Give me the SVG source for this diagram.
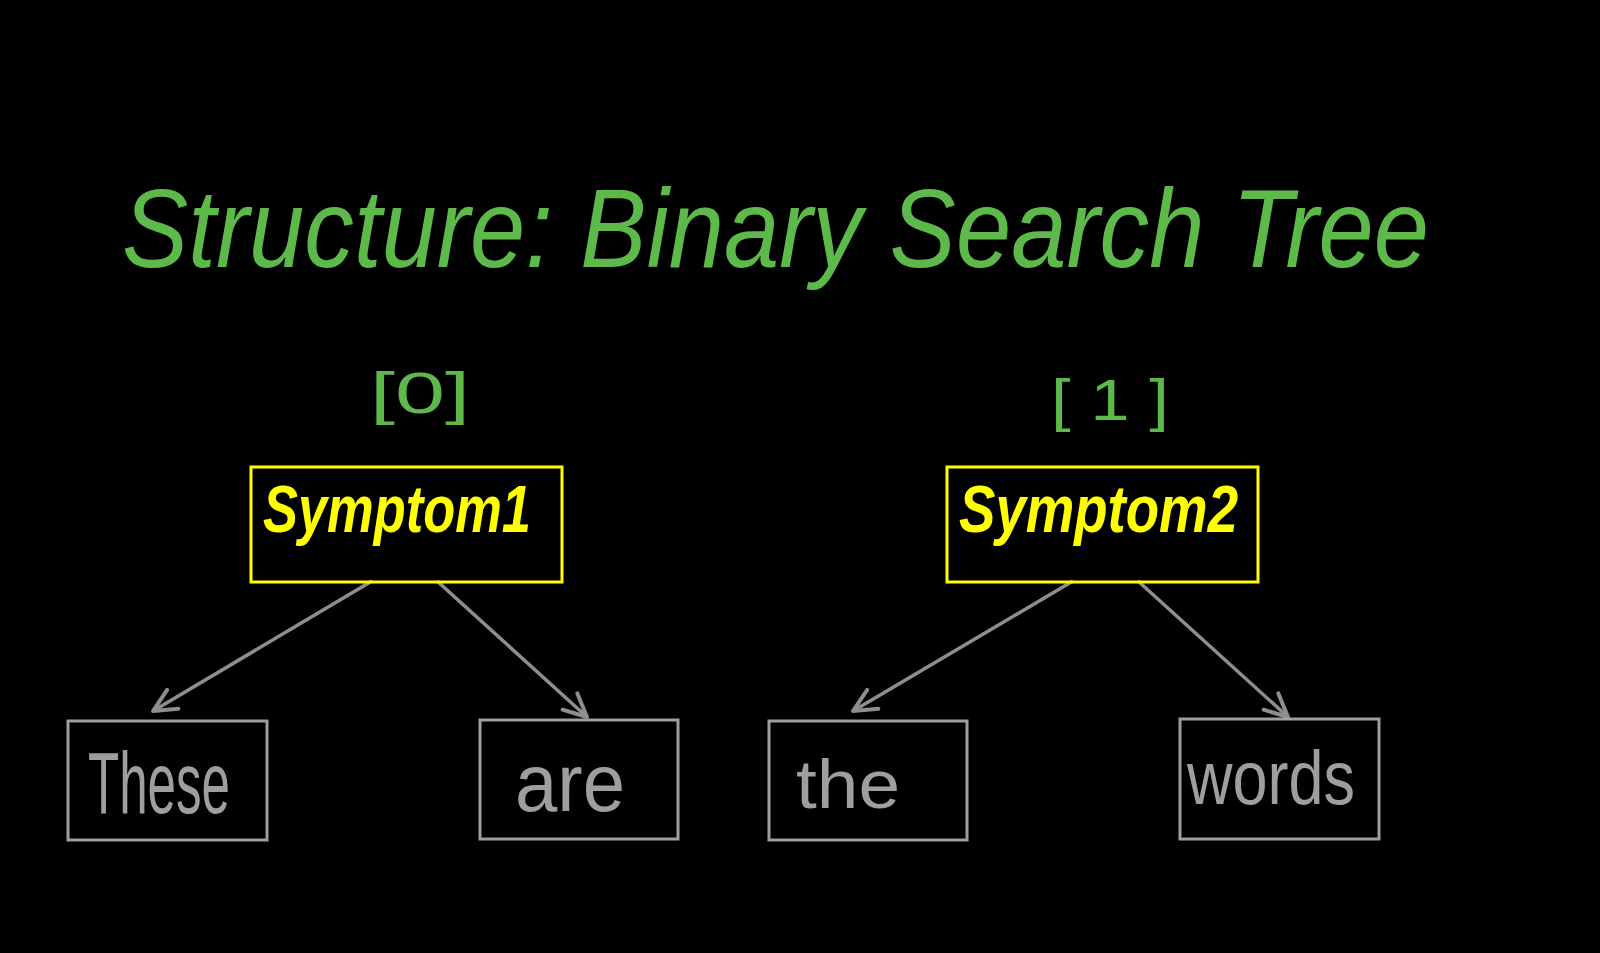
<svg xmlns="http://www.w3.org/2000/svg" width="1600" height="953" viewBox="0 0 1600 953">
<style>
.title{font-family:"Liberation Sans",sans-serif;font-style:italic;fill:#5cb94a}
.idx{font-family:"Liberation Sans",sans-serif;fill:#5cb94a;font-size:58px}
.ybox{fill:none;stroke:#ffff00;stroke-width:3}
.gbox{fill:none;stroke:#9e9e9e;stroke-width:3}
.ytxt{font-family:"Liberation Sans",sans-serif;font-style:italic;font-weight:bold;fill:#ffff00;font-size:66px}
.gtxt{font-family:"Liberation Sans",sans-serif;fill:#9e9e9e}
.edge{stroke:#8e8e8e;stroke-width:3.5;fill:none}
</style>
<defs>
<marker id="arr" viewBox="0 0 30 30" refX="27" refY="15" markerWidth="30" markerHeight="30" markerUnits="userSpaceOnUse" orient="auto">
<path d="M4,4 L27,15 L4,26" fill="none" stroke="#8e8e8e" stroke-width="4" stroke-linecap="round" stroke-linejoin="round"/>
</marker>
</defs>
<rect width="1600" height="953" fill="#000"/>
<g id="title">
<text class="title" x="122" y="267" font-size="112" textLength="1307" lengthAdjust="spacingAndGlyphs">Structure: Binary Search Tree</text>
</g>
<g id="idx0"><text class="idx" x="420" y="413" text-anchor="middle" textLength="100" lengthAdjust="spacingAndGlyphs">[0]</text></g>
<g id="idx1"><text class="idx" x="1110" y="420" text-anchor="middle" textLength="118" lengthAdjust="spacingAndGlyphs">[ 1 ]</text></g>
<g id="connectors">
<line class="edge" x1="372" y1="581" x2="153" y2="711" marker-end="url(#arr)"/>
<line class="edge" x1="437" y1="581" x2="587" y2="717" marker-end="url(#arr)"/>
<line class="edge" x1="1073" y1="581" x2="853" y2="711" marker-end="url(#arr)"/>
<line class="edge" x1="1138" y1="581" x2="1288" y2="717" marker-end="url(#arr)"/>
</g>
<g id="symptom1">
<rect class="ybox" x="251" y="467" width="311" height="115"/>
<text class="ytxt" x="263" y="532" textLength="268" lengthAdjust="spacingAndGlyphs">Symptom1</text>
</g>
<g id="symptom2">
<rect class="ybox" x="947" y="467" width="311" height="115"/>
<text class="ytxt" x="959" y="532" textLength="279" lengthAdjust="spacingAndGlyphs">Symptom2</text>
</g>
<g id="these">
<rect class="gbox" x="68" y="721" width="199" height="119"/>
<text class="gtxt" x="88" y="813" font-size="88" textLength="142" lengthAdjust="spacingAndGlyphs">These</text>
</g>
<g id="are">
<rect class="gbox" x="480" y="720" width="198" height="119"/>
<text class="gtxt" x="515" y="811" font-size="82" textLength="110" lengthAdjust="spacingAndGlyphs">are</text>
</g>
<g id="the">
<rect class="gbox" x="769" y="721" width="198" height="119"/>
<text class="gtxt" x="796" y="808" font-size="68" textLength="104" lengthAdjust="spacingAndGlyphs">the</text>
</g>
<g id="words">
<rect class="gbox" x="1180" y="719" width="199" height="120"/>
<text class="gtxt" x="1187" y="804" font-size="76" textLength="168" lengthAdjust="spacingAndGlyphs">words</text>
</g>
</svg>
